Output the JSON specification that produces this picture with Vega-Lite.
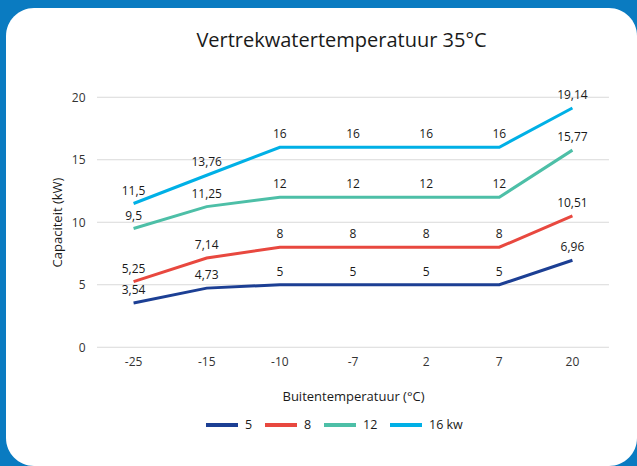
{
  "$schema": "https://vega.github.io/schema/vega-lite/v6.json",
  "width": 631,
  "height": 458,
  "autosize": {"type": "none"},
  "padding": {"left": 6, "top": 8, "right": 0, "bottom": 0},
  "background": "#0a7bc1",
  "view": {"fill": "#ffffff", "stroke": null, "cornerRadius": 28},
  "title": {
    "text": "Vertrekwatertemperatuur 35°C",
    "fontSize": 20,
    "font": "Open Sans",
    "fontWeight": "normal",
    "color": "#1a1a1a",
    "anchor": "middle",
    "baseline": "alphabetic",
    "offset": -59,
    "dx": 20
  },
  "config": {
    "font": "Open Sans",
    "locale": {"number": {"decimal": ",", "thousands": ".", "grouping": [3], "currency": ["€", ""]}}
  },
  "datasets": {
    "grid": [{"g": 0}, {"g": 5}, {"g": 10}, {"g": 15}, {"g": 20}],
    "series": [
      {"t": "-25", "s": "5", "v": 3.54},
      {"t": "-15", "s": "5", "v": 4.73},
      {"t": "-10", "s": "5", "v": 5},
      {"t": "-7", "s": "5", "v": 5},
      {"t": "2", "s": "5", "v": 5},
      {"t": "7", "s": "5", "v": 5},
      {"t": "20", "s": "5", "v": 6.96},
      {"t": "-25", "s": "8", "v": 5.25},
      {"t": "-15", "s": "8", "v": 7.14},
      {"t": "-10", "s": "8", "v": 8},
      {"t": "-7", "s": "8", "v": 8},
      {"t": "2", "s": "8", "v": 8},
      {"t": "7", "s": "8", "v": 8},
      {"t": "20", "s": "8", "v": 10.51},
      {"t": "-25", "s": "12", "v": 9.5},
      {"t": "-15", "s": "12", "v": 11.25},
      {"t": "-10", "s": "12", "v": 12},
      {"t": "-7", "s": "12", "v": 12},
      {"t": "2", "s": "12", "v": 12},
      {"t": "7", "s": "12", "v": 12},
      {"t": "20", "s": "12", "v": 15.77},
      {"t": "-25", "s": "16 kw", "v": 11.5},
      {"t": "-15", "s": "16 kw", "v": 13.76},
      {"t": "-10", "s": "16 kw", "v": 16},
      {"t": "-7", "s": "16 kw", "v": 16},
      {"t": "2", "s": "16 kw", "v": 16},
      {"t": "7", "s": "16 kw", "v": 16},
      {"t": "20", "s": "16 kw", "v": 19.14}
    ]
  },
  "layer": [
    {
      "data": {"name": "grid"},
      "mark": {"type": "rule", "color": "#d9d9d9", "strokeWidth": 1},
      "encoding": {
        "x": {"datum": "-25", "type": "ordinal", "bandPosition": 0},
        "x2": {"datum": "20", "bandPosition": 1},
        "y": {"field": "g", "type": "quantitative"}
      }
    },
    {
      "data": {"name": "series"},
      "mark": {"type": "line", "strokeWidth": 3},
      "encoding": {
        "x": {"field": "t", "type": "ordinal"},
        "y": {"field": "v", "type": "quantitative"},
        "color": {
          "field": "s",
          "type": "nominal",
          "sort": ["5", "8", "12", "16 kw"],
          "scale": {"domain": ["5", "8", "12", "16 kw"], "range": ["#1c3f94", "#e8483f", "#4dbfa7", "#00b0e6"]},
          "legend": {
            "title": null,
            "orient": "none",
            "direction": "horizontal",
            "legendX": 198,
            "legendY": 399,
            "padding": 0,
            "symbolType": "stroke",
            "symbolSize": 1024,
            "symbolStrokeWidth": 4,
            "labelFontSize": 12.5,
            "labelColor": "#1a1a1a",
            "labelOffset": 5,
            "columnPadding": 4
          }
        }
      }
    },
    {
      "data": {"name": "series"},
      "mark": {"type": "text", "fontSize": 12, "color": "#1a1a1a", "baseline": "alphabetic", "dy": -9},
      "encoding": {
        "x": {"field": "t", "type": "ordinal"},
        "y": {"field": "v", "type": "quantitative"},
        "text": {"field": "v", "type": "quantitative", "format": ".2~f"}
      }
    }
  ],
  "encoding": {
    "x": {
      "type": "ordinal",
      "sort": ["-25", "-15", "-10", "-7", "2", "7", "20"],
      "scale": {"type": "band", "domain": ["-25", "-15", "-10", "-7", "2", "7", "20"], "paddingInner": 0, "paddingOuter": 0.8135, "align": 0.7647},
      "axis": {
        "title": "Buitentemperatuur (°C)",
        "orient": "bottom",
        "offset": -118.7,
        "domain": false,
        "ticks": false,
        "tickSize": 0,
        "grid": false,
        "labelAngle": 0,
        "labelPadding": 9,
        "labelFontSize": 12,
        "labelColor": "#333333",
        "titleFontSize": 13,
        "titleFontWeight": "normal",
        "titleColor": "#1a1a1a",
        "titleX": 347,
        "titleY": 53,
        "titleBaseline": "alphabetic"
      }
    },
    "y": {
      "type": "quantitative",
      "scale": {"domain": [-9.5, 27.14], "nice": false, "zero": false},
      "axis": {
        "title": "Capaciteit (kW)",
        "orient": "left",
        "offset": -91,
        "values": [0, 5, 10, 15, 20],
        "domain": false,
        "ticks": false,
        "tickSize": 0,
        "grid": false,
        "labelPadding": 12,
        "labelFontSize": 12,
        "labelColor": "#333333",
        "titleFontSize": 13,
        "titleFontWeight": "normal",
        "titleColor": "#1a1a1a",
        "titleX": -40,
        "titleY": 214,
        "titleBaseline": "middle"
      }
    }
  }
}
